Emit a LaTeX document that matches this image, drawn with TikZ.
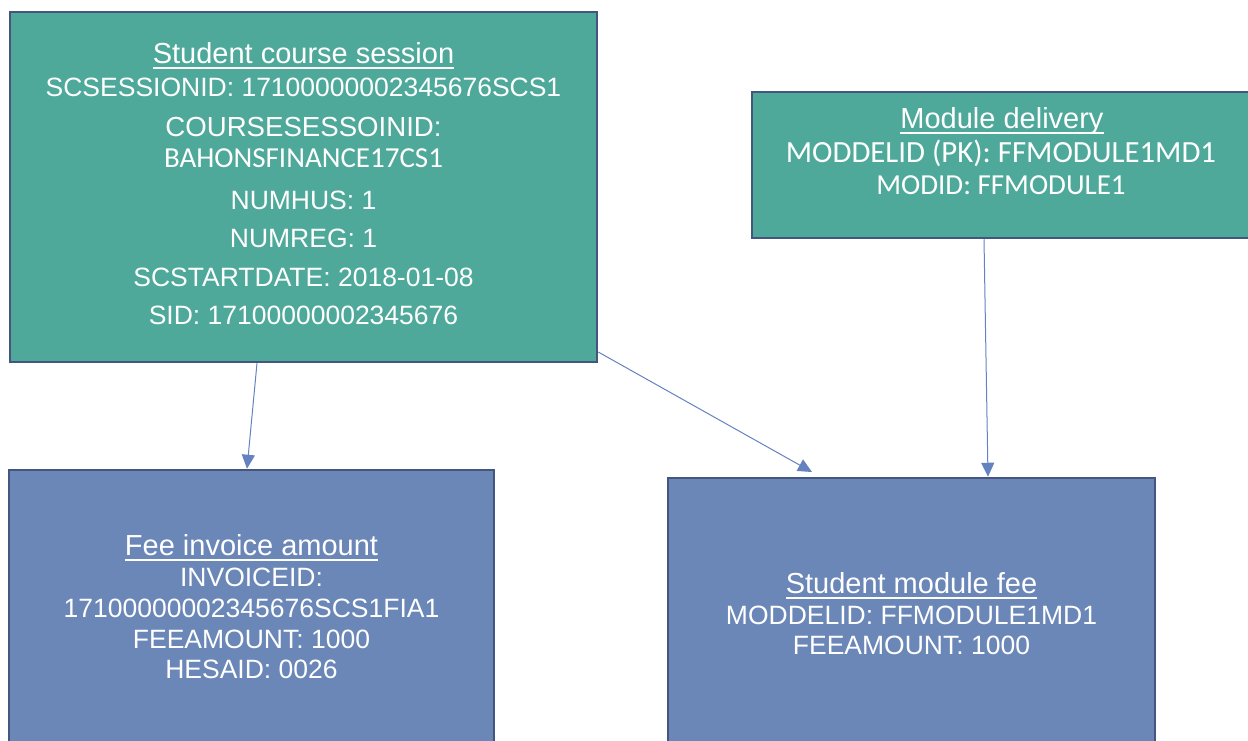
\documentclass[tikz,border=0pt]{standalone}
\usepackage{fontspec}
\setmainfont{Liberation Sans}
\newfontfamily\calfont{Carlito}
\usetikzlibrary{arrows.meta}
\definecolor{tealfill}{RGB}{78,169,154}
\definecolor{bluefill}{RGB}{106,135,184}
\definecolor{boxborder}{RGB}{68,86,128}
\definecolor{arrowc}{RGB}{100,130,192}
\newcommand\ttl[1]{\setbox0\hbox{#1}\leavevmode\rlap{\rule[-5.5pt]{\wd0}{2pt}}\box0}
\begin{document}
\begin{tikzpicture}[x=1pt,y=-1pt,
  tbox/.style={draw=boxborder,line width=2.5pt,fill=tealfill,rectangle,inner sep=0pt},
  bbox/.style={draw=boxborder,line width=2.5pt,fill=bluefill,rectangle,inner sep=0pt},
  ttext/.style={text=white,anchor=base,inner sep=0pt,font=\fontsize{29}{33}\selectfont},
  btext/.style={text=white,anchor=base,inner sep=0pt,font=\fontsize{26.5}{30}\selectfont},
  ctext/.style={text=white,anchor=base,inner sep=0pt,font=\calfont\fontsize{29}{33}\selectfont},
  arr/.style={draw=arrowc,line width=1pt,-{Triangle[length=14pt,width=13pt,fill=arrowc]}}]
\useasboundingbox (0,0) rectangle (1248,740);
\clip (0,0) rectangle (1248,740);
% boxes
\node[tbox,minimum width=587pt,minimum height=350pt] (scs) at (303.5,187) {};
\node[tbox,minimum width=498pt,minimum height=146pt] (md) at (1001,165) {};
\node[bbox,minimum width=485pt,minimum height=300pt] (fia) at (251.5,620) {};
\node[bbox,minimum width=487pt,minimum height=292pt] (smf) at (911.5,624) {};
% Student course session
\node[ttext] (s1) at (303.5,63) {\ttl{Student course session}};
\node[btext] (s2) at (303.5,96) {SCSESSIONID: 17100000002345676SCS1};
\node[btext,font=\fontsize{27.6}{31}\selectfont] (s3) at (303.5,136) {COURSESESSOINID:};
\node[ctext] (s4) at (303.5,167) {BAHONSFINANCE17CS1};
\node[btext] (s5) at (303.5,209) {NUMHUS: 1};
\node[btext] (s6) at (303.5,247) {NUMREG: 1};
\node[btext] (s7) at (303.5,286) {SCSTARTDATE: 2018-01-08};
\node[btext] (s8) at (303.5,324) {SID: 17100000002345676};
% Module delivery
\node[ttext] (m1) at (1002,128) {\ttl{Module delivery}};
\node[ctext,font=\calfont\fontsize{30.8}{34}\selectfont] (m2) at (1001,162) {MODDELID (PK): FFMODULE1MD1};
\node[ctext] (m3) at (1001,194) {MODID: FFMODULE1};
% Fee invoice amount
\node[ttext] (f1) at (251.5,555) {\ttl{Fee invoice amount}};
\node[btext] (f2) at (251.5,586) {INVOICEID:};
\node[btext] (f3) at (251.5,617) {17100000002345676SCS1FIA1};
\node[btext] (f4) at (251.5,648) {FEEAMOUNT: 1000};
\node[btext] (f5) at (251.5,678) {HESAID: 0026};
% Student module fee
\node[ttext] (g1) at (911.5,593) {\ttl{Student module fee}};
\node[btext] (g2) at (911.5,624) {MODDELID: FFMODULE1MD1};
\node[btext] (g3) at (911.5,654) {FEEAMOUNT: 1000};
% connectors
\coordinate (a1s) at (scs.south -| 257,0);
\coordinate (a1e) at (fia.north -| 247,0);
\coordinate (a2s) at (scs.east |- 0,352);
\coordinate (a2e) at (812,472);
\coordinate (a3s) at (md.south -| 984,0);
\coordinate (a3e) at (smf.north -| 988,0);
\draw[arr] (a1s) -- (a1e);
\draw[arr] (a2s) -- (a2e);
\draw[arr] (a3s) -- (a3e);
\end{tikzpicture}
\end{document}
